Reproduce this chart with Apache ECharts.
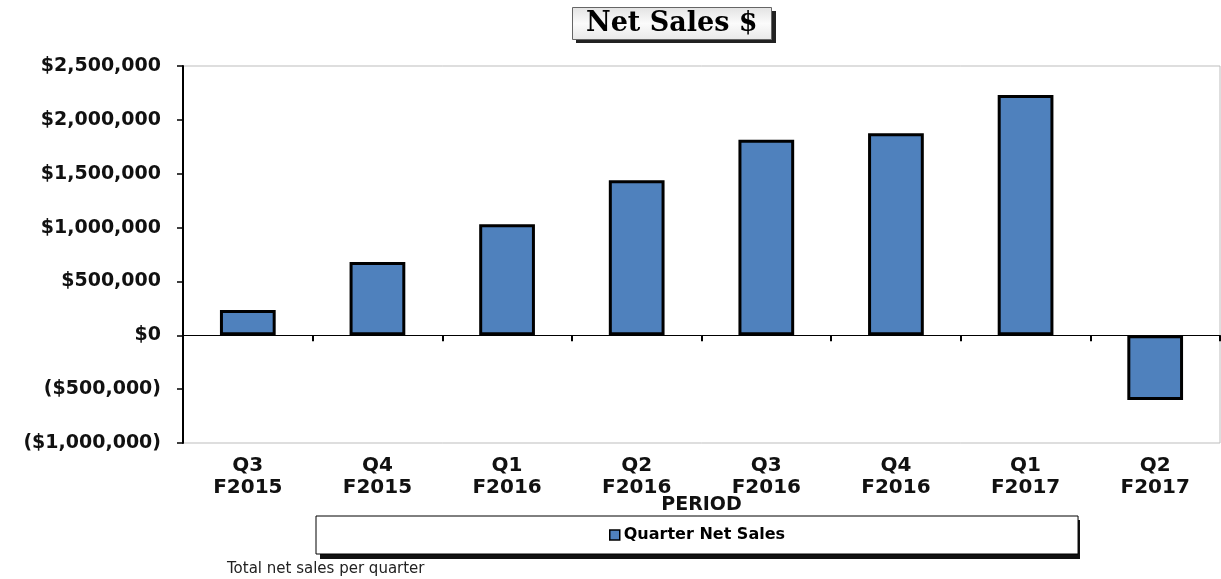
<!DOCTYPE html>
<html lang="en">
<head>
    <meta charset="UTF-8">
    <script src="https://cdn.jsdelivr.net/npm/echarts@6/dist/echarts.min.js"></script>
</head>
<body style="margin:0">
    <div id="chart" style="height: 579px;width: 1221px;"></div>
    <script>
        var periods = ['Q3\nF2015', 'Q4\nF2015', 'Q1\nF2016', 'Q2\nF2016', 'Q3\nF2016', 'Q4\nF2016', 'Q1\nF2017', 'Q2\nF2017']
        var netSales = [235000, 680000, 1030000, 1440000, 1815000, 1875000, 2230000, -600000]
        var seriesName = 'Quarter Net Sales'

        function money(v) {
            var s = '$' + Math.abs(v).toLocaleString('en-US')
            return v < 0 ? '(' + s + ')' : s
        }

        var myChart = echarts.init(document.getElementById('chart'))
        var option = {
            animation: false,
            // drop shadows behind the title box and the legend box
            graphic: [
                { type: 'rect', left: 576, top: 11, z: 1, shape: { width: 200, height: 32 }, style: { fill: '#222' } },
                { type: 'rect', left: 320, top: 520, z: 1, shape: { width: 760, height: 39 }, style: { fill: '#111' } }
            ],
            title: [{
                text: 'Net Sales $',
                left: 572,
                top: 7,
                padding: [3, 14, 3, 14],
                backgroundColor: new echarts.graphic.LinearGradient(0, 0, 0, 1, [
                    { offset: 0, color: '#e2e2e2' },
                    { offset: 0.5, color: '#fbfbfb' },
                    { offset: 1, color: '#e8e8e8' }
                ]),
                borderColor: '#666',
                borderWidth: 1,
                textStyle: {
                    fontFamily: 'DejaVu Serif',
                    fontWeight: 'bold',
                    fontSize: 27,
                    color: '#000'
                }
            }, {
                text: 'Total net sales per quarter',
                left: 227,
                top: 562,
                padding: 0,
                textStyle: {
                    fontFamily: 'DejaVu Sans',
                    fontWeight: 'normal',
                    fontSize: 15,
                    color: '#222'
                }
            }],
            legend: {
                data: [seriesName],
                left: 316,
                top: 516,
                padding: [11, 293, 11, 293],
                backgroundColor: '#fff',
                borderColor: '#000',
                borderWidth: 1,
                icon: 'rect',
                itemWidth: 10,
                itemHeight: 10,
                itemGap: 4,
                itemStyle: { borderColor: '#000', borderWidth: 1.5 },
                textStyle: {
                    fontFamily: 'DejaVu Sans',
                    fontWeight: 'bold',
                    fontSize: 16,
                    color: '#000',
                    padding: [0, 0, 0, -1]
                }
            },
            grid: {
                left: 183,
                right: 1,
                top: 66,
                bottom: 136,
                show: true,
                borderColor: '#bdbdbd',
                borderWidth: 1
            },
            xAxis: [{
                type: 'category',
                data: periods,
                position: 'bottom',
                name: 'PERIOD',
                nameLocation: 'middle',
                nameGap: 53,
                nameMoveOverlap: false,
                nameTextStyle: {
                    fontFamily: 'DejaVu Sans',
                    fontWeight: 'bold',
                    fontSize: 19,
                    color: '#111'
                },
                axisLine: { show: false, onZero: false },
                axisTick: { show: false },
                axisLabel: {
                    margin: 12,
                    interval: 0,
                    lineHeight: 22,
                    fontFamily: 'DejaVu Sans',
                    fontWeight: 'bold',
                    fontSize: 20,
                    color: '#111'
                }
            }, {
                type: 'category',
                data: periods,
                position: 'top',
                axisLine: { show: true, onZero: true, lineStyle: { color: '#000', width: 1 } },
                axisTick: { show: true, inside: true, length: 6, lineStyle: { color: '#000', width: 2 } },
                axisLabel: { show: false }
            }],
            yAxis: {
                type: 'value',
                min: -1000000,
                max: 2500000,
                interval: 500000,
                axisLine: { show: true, lineStyle: { color: '#000', width: 2 } },
                axisTick: { show: true, length: 6, lineStyle: { color: '#000', width: 1.5 } },
                splitLine: { show: false },
                axisLabel: {
                    margin: 22,
                    fontFamily: 'DejaVu Sans',
                    fontWeight: 'bold',
                    fontSize: 19,
                    color: '#111',
                    formatter: money
                }
            },
            series: [{
                name: seriesName,
                type: 'bar',
                data: netSales,
                barWidth: '43%',
                itemStyle: {
                    color: '#4f81bd',
                    borderColor: '#000',
                    borderWidth: 3
                }
            }]
        }
        myChart.setOption(option)
    </script>
</body>
</html>
